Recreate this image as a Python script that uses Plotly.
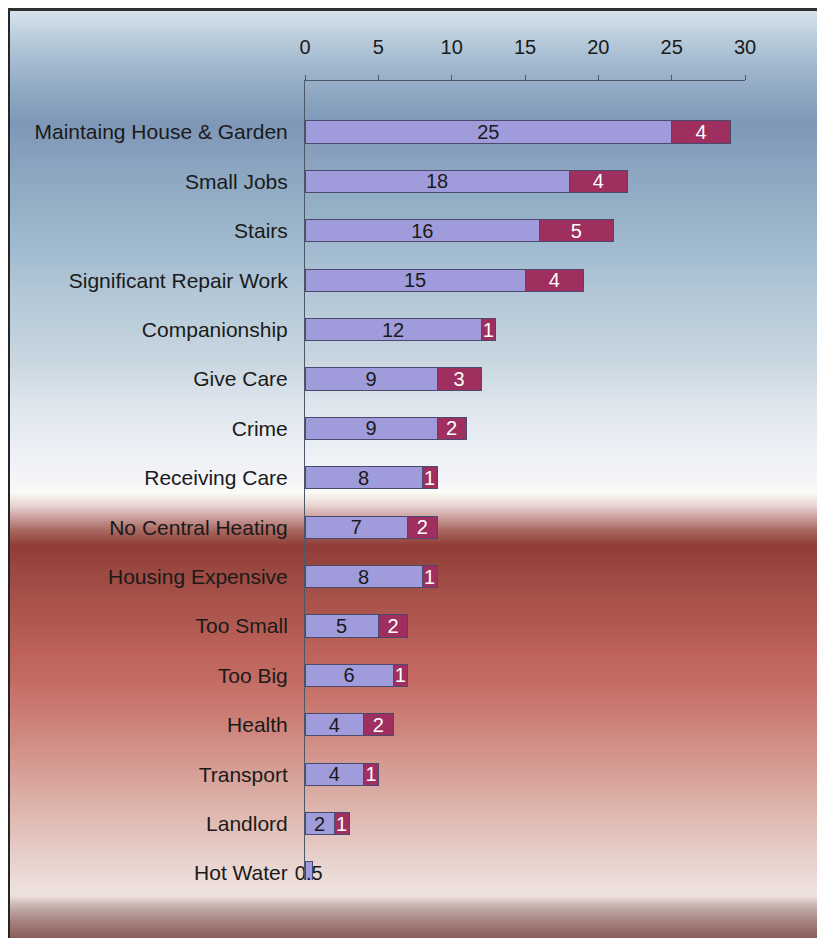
import base64
import struct
import zlib
import plotly.graph_objects as go

# ---------------- data ----------------
categories = ["Maintaing House & Garden", "Small Jobs", "Stairs", "Significant Repair Work",
              "Companionship", "Give Care", "Crime", "Receiving Care", "No Central Heating",
              "Housing Expensive", "Too Small", "Too Big", "Health", "Transport", "Landlord",
              "Hot Water"]
series_a = [25, 18, 16, 15, 12, 9, 9, 8, 7, 8, 5, 6, 4, 4, 2, 0.5]
series_b = [4, 4, 5, 4, 1, 3, 2, 1, 2, 1, 2, 1, 2, 1, 1, 0]
x_ticks = [0, 5, 10, 15, 20, 25, 30]

# ---------------- geometry (figure pixels; page has an 8px body margin) ----------------
OFF = 8
W, H = 825, 938
ML, MR, MT, MB = 297, 88, 73, 66
PW, PH = W - ML - MR, H - MT - MB


def px_x(p):
    return (p - ML) / PW


def px_y(p):
    return (H - MB - p) / PH


# ---------------- background gradient (stops in page pixels) ----------------
stops = [
    (11, (0xD6, 0xE3, 0xEE)), (30, (0xC2, 0xD3, 0xE0)), (60, (0xA4, 0xBB, 0xD0)),
    (100, (0x8A, 0xA3, 0xBF)), (125, (0x7F, 0x97, 0xB7)), (160, (0x8A, 0xA2, 0xBF)),
    (200, (0x92, 0xAE, 0xC4)), (250, (0xA2, 0xBB, 0xD0)), (300, (0xB6, 0xC9, 0xD8)),
    (360, (0xC8, 0xD6, 0xE0)), (400, (0xDC, 0xE4, 0xEC)), (450, (0xEC, 0xF0, 0xF5)),
    (480, (0xF5, 0xF5, 0xFA)), (492, (0xFA, 0xFA, 0xF5)), (505, (0xE8, 0xD4, 0xD2)),
    (515, (0xD0, 0xA8, 0xA6)), (530, (0xA8, 0x68, 0x60)), (545, (0x92, 0x3C, 0x38)),
    (570, (0x9A, 0x48, 0x40)), (600, (0xA8, 0x52, 0x4A)), (620, (0xAE, 0x58, 0x50)),
    (650, (0xBC, 0x62, 0x5A)), (680, (0xC4, 0x6C, 0x64)), (720, (0xCC, 0x80, 0x78)),
    (760, (0xD4, 0x98, 0x90)), (800, (0xDC, 0xB0, 0xA8)), (840, (0xE4, 0xC6, 0xC0)),
    (880, (0xEC, 0xDC, 0xD8)), (895, (0xEE, 0xE2, 0xE0)), (905, (0xC8, 0xB4, 0xB0)),
    (920, (0xA8, 0x84, 0x80)), (938, (0x8A, 0x5C, 0x58)),
]


def color_at(y):
    if y <= stops[0][0]:
        return stops[0][1]
    for (y0, c0), (y1, c1) in zip(stops, stops[1:]):
        if y0 <= y <= y1:
            t = (y - y0) / (y1 - y0)
            return tuple(int(round(a + (b - a) * t)) for a, b in zip(c0, c1))
    return stops[-1][1]


IMG_TOP, IMG_LEFT = 3, 2          # figure pixels
img_h = H - IMG_TOP
img_w = 8
rows = [color_at(IMG_TOP + OFF + i) for i in range(img_h)]
raw = b"".join(b"\x00" + bytes(c) * img_w for c in rows)


def chunk(tag, data):
    return struct.pack(">I", len(data)) + tag + data + struct.pack(">I", zlib.crc32(tag + data) & 0xFFFFFFFF)


png = (b"\x89PNG\r\n\x1a\n" + chunk(b"IHDR", struct.pack(">IIBBBBB", img_w, img_h, 8, 2, 0, 0, 0))
       + chunk(b"IDAT", zlib.compress(raw, 9)) + chunk(b"IEND", b""))
src = "data:image/png;base64," + base64.b64encode(png).decode()

# ---------------- traces ----------------
text_a = [f"{v:g}" for v in series_a]
text_b = [f"{v:g}" if v else "" for v in series_b]

FONT = "Liberation Sans, Arial, sans-serif"

fig = go.Figure()
fig.add_trace(go.Bar(
    y=categories, x=series_a, orientation="h", width=0.45,
    marker=dict(color="#A09CDC", line=dict(color="#4A4A6E", width=1)),
    text=text_a, textposition="inside", insidetextanchor="middle", textangle=0,
    textfont=dict(family=FONT, size=20, color="#1A1A1A"), cliponaxis=False,
    hoverinfo="x+y", showlegend=False,
))
fig.add_trace(go.Bar(
    y=categories, x=series_b, orientation="h", width=0.45,
    marker=dict(color="#9E2F5E", line=dict(color="#4A4A6E", width=1)),
    text=text_b, textposition="inside", insidetextanchor="middle", textangle=0,
    textfont=dict(family=FONT, size=20, color="#FFFFFF"), cliponaxis=False,
    hoverinfo="x+y", showlegend=False,
))

n = len(categories)
spacing = 49.4
y_top = -(124 - MT) / spacing
y_bot = (n - 1) + (H - MB - 865) / spacing

fig.update_layout(
    width=W, height=H,
    margin=dict(l=ML, r=MR, t=MT, b=MB, pad=0),
    barmode="stack",
    paper_bgcolor="white",
    plot_bgcolor="rgba(0,0,0,0)",
    uniformtext=dict(minsize=20, mode="show"),
    font=dict(family=FONT, size=20, color="#1A1A1A"),
    xaxis=dict(
        side="top", range=[0, 30], tickvals=x_ticks, ticktext=[str(t) for t in x_ticks],
        showline=True, linecolor="#4A5868", linewidth=1,
        ticks="outside", ticklen=5, tickcolor="#4A5868", tickwidth=1,
        showgrid=False, zeroline=False, ticklabelstandoff=13,
        tickfont=dict(family=FONT, size=20, color="#1A1A1A"), fixedrange=True,
    ),
    yaxis=dict(
        type="category", categoryorder="array", categoryarray=categories,
        range=[y_bot, y_top],
        showline=True, linecolor="#4A5868", linewidth=1,
        ticks="", showgrid=False, zeroline=False, ticklabelstandoff=12,
        tickfont=dict(family=FONT, size=21, color="#1A1A1A"), fixedrange=True,
    ),
    images=[dict(
        source=src, xref="paper", yref="paper",
        x=px_x(IMG_LEFT), y=px_y(IMG_TOP),
        sizex=(W - IMG_LEFT) / PW, sizey=img_h / PH,
        xanchor="left", yanchor="top", sizing="stretch", layer="below",
    )],
    shapes=[
        dict(type="line", xref="paper", yref="paper",
             x0=px_x(0.5), x1=px_x(0.5), y0=px_y(0), y1=px_y(H),
             line=dict(color="#262626", width=3), layer="above"),
        dict(type="line", xref="paper", yref="paper",
             x0=px_x(-1), x1=px_x(W), y0=px_y(1.5), y1=px_y(1.5),
             line=dict(color="#303030", width=3), layer="above"),
    ],
)

fig.write_html("out.html")
